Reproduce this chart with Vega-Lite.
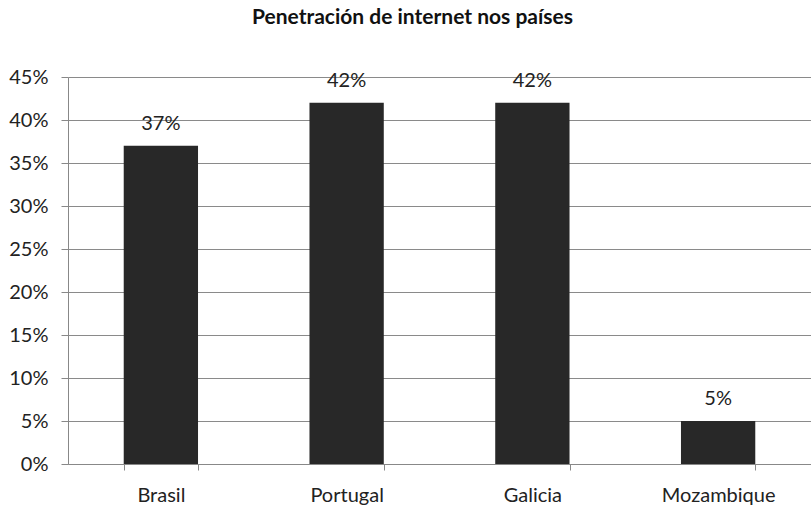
{
  "$schema": "https://vega.github.io/schema/vega-lite/v6.json",
  "width": 743,
  "height": 387,
  "autosize": {"type": "none"},
  "padding": {"left": 68, "top": 77, "right": 0, "bottom": 44},
  "background": "white",
  "title": {
    "text": "Penetración de internet nos países",
    "font": "Lato",
    "fontSize": 21,
    "fontWeight": "bold",
    "color": "#111",
    "anchor": "middle",
    "dx": -27,
    "offset": 39
  },
  "data": {
    "values": [
      {"pais": "Brasil", "valor": 0.37},
      {"pais": "Portugal", "valor": 0.42},
      {"pais": "Galicia", "valor": 0.42},
      {"pais": "Mozambique", "valor": 0.05}
    ]
  },
  "config": {
    "view": {"stroke": null},
    "font": "Lato"
  },
  "encoding": {
    "x": {
      "field": "pais",
      "type": "nominal",
      "sort": null,
      "scale": {"paddingInner": 0.6, "paddingOuter": 0.3},
      "axis": {
        "title": null,
        "labelAngle": 0,
        "labelFontSize": 20,
        "labelColor": "#222",
        "labelPadding": 15,
        "tickBand": "extent",
        "tickColor": "#888",
        "tickSize": 6,
        "domainColor": "#888",
        "grid": false
      }
    },
    "y": {
      "field": "valor",
      "type": "quantitative",
      "scale": {"domain": [0, 0.45]},
      "axis": {
        "title": null,
        "format": ".0%",
        "values": [0, 0.05, 0.1, 0.15, 0.2, 0.25, 0.3, 0.35, 0.4, 0.45],
        "labelFontSize": 20,
        "labelColor": "#222",
        "labelPadding": 13,
        "tickColor": "#888",
        "tickSize": 7,
        "domainColor": "#888",
        "gridColor": "#8a8a8a",
        "gridOpacity": 1
      }
    }
  },
  "layer": [
    {"mark": {"type": "bar", "color": "#282828"}},
    {
      "mark": {"type": "text", "baseline": "bottom", "dy": -12, "fontSize": 20, "color": "#222"},
      "encoding": {"text": {"field": "valor", "format": ".0%"}}
    }
  ]
}
